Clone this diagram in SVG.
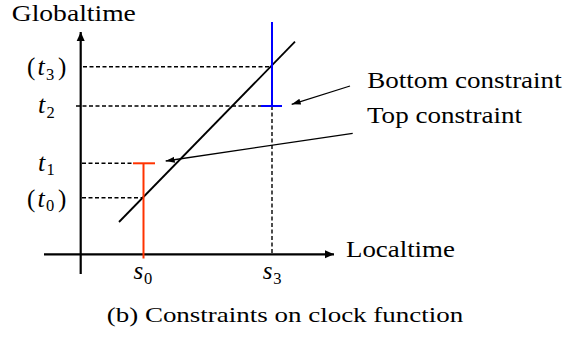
<svg xmlns="http://www.w3.org/2000/svg" width="586" height="337" viewBox="0 0 586 337">
<defs>
<marker id="axhead" markerWidth="10" markerHeight="10" refX="9" refY="5" orient="auto" markerUnits="userSpaceOnUse">
<path d="M0,1 L9,5 L0,9 Z" fill="#000"/>
</marker>
<marker id="ptrhead" markerWidth="10" markerHeight="8" refX="9" refY="4" orient="auto" markerUnits="userSpaceOnUse">
<path d="M0,1 L9,4 L0,7 Z" fill="#000"/>
</marker>
</defs>
<rect width="586" height="337" fill="#fff"/>
<g id="axes" stroke="#000" stroke-width="2.2" fill="none">
<line x1="80.7" y1="274" x2="80.7" y2="32" marker-end="url(#axhead)"/>
<line x1="44" y1="254.3" x2="334" y2="254.3" marker-end="url(#axhead)"/>
</g>
<g id="axis-labels" font-family="Liberation Serif" font-size="24" fill="#000">
<text transform="translate(11.7,20.7) scale(1.15,1)">Globaltime</text>
<text transform="translate(346,257.3) scale(1.12,1)">Localtime</text>
</g>
<g id="guides" stroke="#000" stroke-width="1.4" stroke-dasharray="4 2.5" fill="none">
<line x1="83" y1="66.7" x2="272" y2="66.7"/>
<line x1="76" y1="106" x2="262" y2="106"/>
<line x1="82" y1="163.3" x2="133" y2="163.3"/>
<line x1="82" y1="197.7" x2="143" y2="197.7"/>
<line x1="272" y1="106" x2="272" y2="254"/>
</g>
<g id="clock-function">
<line x1="119" y1="222" x2="295" y2="41.7" stroke="#000" stroke-width="1.8"/>
</g>
<g id="top-constraint-mark" stroke="#ff3300" stroke-width="2">
<line x1="143.5" y1="163.3" x2="143.5" y2="258.5"/>
<line x1="133" y1="163.3" x2="155" y2="163.3"/>
</g>
<g id="bottom-constraint-mark" stroke="#0000ff" stroke-width="2">
<line x1="272" y1="22" x2="272" y2="106"/>
<line x1="261" y1="106" x2="282" y2="106"/>
</g>
<g id="connectors" stroke="#000" stroke-width="1.3" fill="none">
<line x1="350" y1="86" x2="291.7" y2="104.3" marker-end="url(#ptrhead)"/>
<line x1="352.7" y1="133.3" x2="165.7" y2="161" marker-end="url(#ptrhead)"/>
</g>
<g id="bottom-constraint-label" font-family="Liberation Serif" font-size="24" fill="#000">
<text transform="translate(367.3,88.3) scale(1.126,1)">Bottom constraint</text>
</g>
<g id="top-constraint-label" font-family="Liberation Serif" font-size="24" fill="#000">
<text transform="translate(367,122.7) scale(1.127,1)">Top constraint</text>
</g>
<g id="tick-labels" font-family="Liberation Serif" font-size="24" fill="#000">
<text y="75"><tspan font-size="25" x="27">(</tspan><tspan font-style="italic" font-size="26" x="37.5">t</tspan><tspan font-size="16.5" x="46" y="79.5">3</tspan><tspan font-size="25" x="58" y="75">)</tspan></text>
<text y="113.3"><tspan font-style="italic" font-size="26" x="38">t</tspan><tspan font-size="16.5" x="46.5" y="117.8">2</tspan></text>
<text y="170.7"><tspan font-style="italic" font-size="26" x="38">t</tspan><tspan font-size="16.5" x="46.5" y="175.2">1</tspan></text>
<text y="206.7"><tspan font-size="25" x="27">(</tspan><tspan font-style="italic" font-size="26" x="37.5">t</tspan><tspan font-size="16.5" x="46" y="211.2">0</tspan><tspan font-size="25" x="58" y="206.7">)</tspan></text>
<text y="279.3"><tspan font-style="italic" font-size="25" x="133.5">s</tspan><tspan font-size="16.5" x="144" y="283.8">0</tspan></text>
<text y="279.3"><tspan font-style="italic" font-size="25" x="262.7">s</tspan><tspan font-size="16.5" x="273.3" y="283.8">3</tspan></text>
</g>
<g id="caption" font-family="Liberation Serif" font-size="22" fill="#000">
<text transform="translate(106.7,321.7) scale(1.226,1)">(b) Constraints on clock function</text>
</g>
</svg>
